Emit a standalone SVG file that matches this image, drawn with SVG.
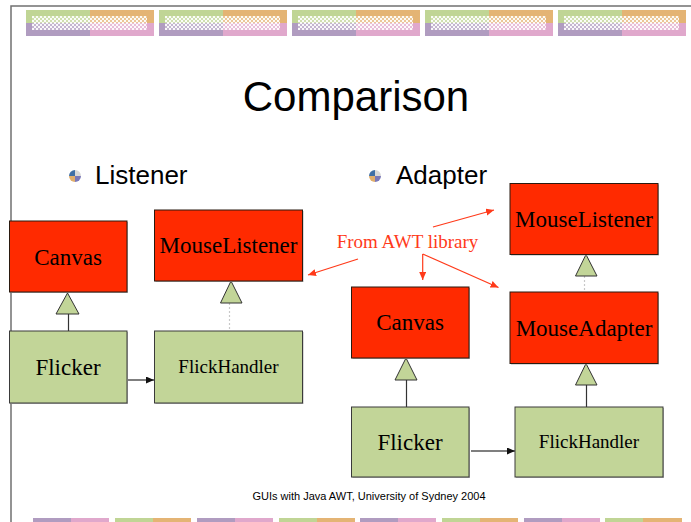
<svg xmlns="http://www.w3.org/2000/svg" width="691" height="522" viewBox="0 0 691 522">
<style>
.frame{stroke:#707070;stroke-width:1.5;fill:none}
.red{fill:#ff2a00;stroke:#2a1a10;stroke-width:1}
.grn{fill:#c2d598;stroke:#3a3a3a;stroke-width:1}
.shd{fill:#b4b4b4}
.lbl{font-family:"Liberation Serif","Times New Roman",serif;font-size:23px;fill:#000;text-anchor:middle}
.sml{font-size:19px}
.hdr{font-family:"Liberation Sans",Arial,sans-serif;fill:#000}
.tri{fill:#c2d598;stroke:#333;stroke-width:1}
.sol{stroke:#333;stroke-width:1.2;fill:none}
.dsh{stroke:#c8c8c8;stroke-width:1.2;stroke-dasharray:2,2;fill:none}
.arr{stroke:#555;stroke-width:1.5;fill:none}
.rar{stroke:#ff3a1a;stroke-width:1.2;fill:none}
.g{fill:#c0d595}.o{fill:#e4b474}.p{fill:#b09cc0}.k{fill:#e0a8cc}
</style>
<defs>
<pattern id="chk" width="4" height="4" patternUnits="userSpaceOnUse">
<rect x="0" y="0" width="2" height="2" fill="#fff" fill-opacity="0.9"/>
<rect x="2" y="2" width="2" height="2" fill="#fff" fill-opacity="0.9"/>
</pattern>
<marker id="ah" markerWidth="9" markerHeight="8" refX="8" refY="3.5" orient="auto" markerUnits="userSpaceOnUse">
<path d="M0,0 L8,3.5 L0,7 z" fill="#111"/>
</marker>
<marker id="rh" markerWidth="9" markerHeight="8" refX="8" refY="3.5" orient="auto" markerUnits="userSpaceOnUse">
<path d="M0,0 L8,3.5 L0,7 z" fill="#ff3a1a"/>
</marker>
<g id="tile">
<rect x="0" y="0" width="64" height="13" class="g"/>
<rect x="64" y="0" width="64" height="13" class="o"/>
<rect x="0" y="13" width="64" height="13" class="p"/>
<rect x="64" y="13" width="64" height="13" class="k"/>
<rect x="6" y="6" width="115" height="14" fill="#fff" fill-opacity="0.25"/>
<rect x="6" y="6" width="115" height="14" fill="url(#chk)"/>
</g>
<g id="bul">
<path d="M0,0 L0,-6 A6,6 0 0 0 -6,0 z" fill="#3f6fa6"/>
<path d="M0,0 L6,0 A6,6 0 0 0 0,-6 z" fill="#d8d8d8"/>
<path d="M0,0 L-6,0 A6,6 0 0 0 0,6 z" fill="#e0ae6c"/>
<path d="M0,0 L0,6 A6,6 0 0 0 6,0 z" fill="#7a78b8"/>
</g>
</defs>
<rect width="691" height="522" fill="#fff"/>
<g id="decor">
<path class="frame" d="M11,522 L11,6 L691,6"/>
<use href="#tile" x="26" y="10"/>
<use href="#tile" x="159" y="10"/>
<use href="#tile" x="292" y="10"/>
<use href="#tile" x="425" y="10"/>
<use href="#tile" x="558" y="10"/>
<rect x="33" y="518" width="38" height="4" class="p"/><rect x="71" y="518" width="38" height="4" class="k"/>
<rect x="115" y="518" width="38" height="4" class="g"/><rect x="153" y="518" width="38" height="4" class="o"/>
<rect x="197" y="518" width="38" height="4" class="p"/><rect x="235" y="518" width="38" height="4" class="k"/>
<rect x="279" y="518" width="38" height="4" class="g"/><rect x="317" y="518" width="38" height="4" class="o"/>
<rect x="360" y="518" width="38" height="4" class="p"/><rect x="398" y="518" width="38" height="4" class="k"/>
<rect x="442" y="518" width="38" height="4" class="g"/><rect x="480" y="518" width="38" height="4" class="o"/>
<rect x="524" y="518" width="38" height="4" class="p"/><rect x="562" y="518" width="38" height="4" class="k"/>
<rect x="605" y="518" width="38" height="4" class="g"/><rect x="643" y="518" width="39" height="4" class="o"/>
</g>
<text class="hdr" x="356" y="111" font-size="42" text-anchor="middle">Comparison</text>
<g id="bullet-listener">
<use href="#bul" x="75" y="176"/>
<text class="hdr" x="95" y="184" font-size="26">Listener</text>
</g>
<g id="bullet-adapter">
<use href="#bul" x="375" y="176"/>
<text class="hdr" x="396" y="184" font-size="26">Adapter</text>
</g>
<g id="connectors">
<line class="sol" x1="68.5" y1="314" x2="68.5" y2="331"/>
<path class="tri" d="M67.5,293 L56,314 L79,314 z"/>
<line class="dsh" x1="229.5" y1="303" x2="229.5" y2="331"/>
<path class="tri" d="M231,281 L220.5,303 L242,303 z"/>
<line class="arr" x1="127" y1="380" x2="154" y2="380" marker-end="url(#ah)"/>
<line class="sol" x1="406.5" y1="380" x2="406.5" y2="407"/>
<path class="tri" d="M406,358 L395,380 L417,380 z"/>
<line class="arr" x1="471" y1="451" x2="515" y2="451" marker-end="url(#ah)"/>
<line class="sol" x1="586.5" y1="385" x2="586.5" y2="407"/>
<path class="tri" d="M586,363.5 L575.5,385 L597,385 z"/>
<line class="dsh" x1="584.5" y1="276" x2="584.5" y2="292"/>
<path class="tri" d="M586,254.5 L575.5,276 L597,276 z"/>
<line class="rar" x1="358" y1="259" x2="308" y2="275" marker-end="url(#rh)"/>
<line class="rar" x1="433" y1="227" x2="494" y2="210" marker-end="url(#rh)"/>
<path class="rar" d="M422.7,254 L422.7,280" marker-end="url(#rh)"/>
<line class="rar" x1="422.7" y1="254" x2="498.5" y2="287.5" marker-end="url(#rh)"/>
</g>
<text x="407.5" y="248" font-family="'Liberation Serif','Times New Roman',serif" font-size="19" fill="#ff3a1a" text-anchor="middle">From AWT library</text>
<g id="canvas-l">
<rect class="shd" x="10.5" y="222" width="117.5" height="71"/>
<rect class="red" x="9.5" y="221" width="117.5" height="71"/>
<text class="lbl" x="68" y="265">Canvas</text>
</g>
<g id="flicker-l">
<rect class="shd" x="10.5" y="332" width="117.5" height="72"/>
<rect class="grn" x="9.5" y="331" width="117.5" height="72"/>
<text class="lbl" x="68" y="375">Flicker</text>
</g>
<g id="mouselistener-l">
<rect class="shd" x="155.5" y="211" width="148" height="71"/>
<rect class="red" x="154.5" y="210" width="148" height="71"/>
<text class="lbl" x="228.5" y="253">MouseListener</text>
</g>
<g id="flickhandler-l">
<rect class="shd" x="155.5" y="332" width="148" height="72"/>
<rect class="grn" x="154.5" y="331" width="148" height="72"/>
<text class="lbl sml" x="228.5" y="373">FlickHandler</text>
</g>
<g id="canvas-r">
<rect class="shd" x="352.5" y="288" width="117.5" height="71"/>
<rect class="red" x="351.5" y="287" width="117.5" height="71"/>
<text class="lbl" x="410" y="330">Canvas</text>
</g>
<g id="flicker-r">
<rect class="shd" x="352.5" y="408" width="117.5" height="70"/>
<rect class="grn" x="351.5" y="407" width="117.5" height="70"/>
<text class="lbl" x="410" y="450">Flicker</text>
</g>
<g id="mouselistener-r">
<rect class="shd" x="511" y="184.5" width="148" height="71"/>
<rect class="red" x="510" y="183.5" width="148" height="71"/>
<text class="lbl" x="584" y="227">MouseListener</text>
</g>
<g id="mouseadapter-r">
<rect class="shd" x="511" y="293" width="148" height="71.5"/>
<rect class="red" x="510" y="292" width="148" height="71.5"/>
<text class="lbl" x="584" y="336">MouseAdapter</text>
</g>
<g id="flickhandler-r">
<rect class="shd" x="516" y="408" width="148" height="70"/>
<rect class="grn" x="515" y="407" width="148" height="70"/>
<text class="lbl sml" x="589" y="448">FlickHandler</text>
</g>
<text class="hdr" x="369" y="500" font-size="11" text-anchor="middle">GUIs with Java AWT, University of Sydney 2004</text>
</svg>
